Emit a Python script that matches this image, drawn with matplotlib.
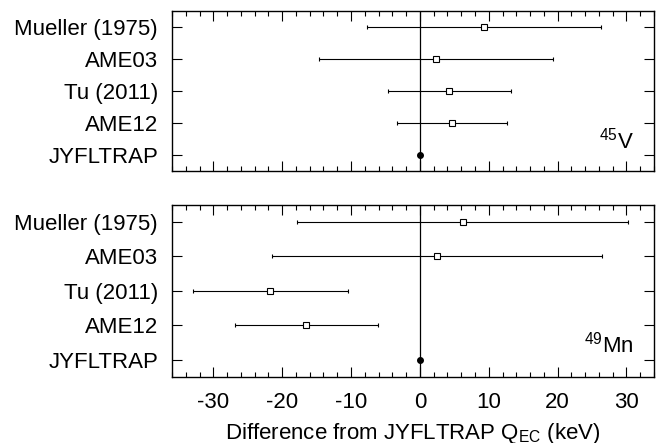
import numpy as np
import matplotlib.pyplot as plt

plt.rcParams['font.family'] = 'Liberation Sans'
plt.rcParams['mathtext.fontset'] = 'custom'
plt.rcParams['mathtext.rm'] = 'Liberation Sans'
plt.rcParams['mathtext.it'] = 'Liberation Sans'
plt.rcParams['axes.unicode_minus'] = False

labels = ['JYFLTRAP', 'AME12', 'Tu (2011)', 'AME03', 'Mueller (1975)']

# differences from JYFLTRAP (keV), ordered bottom to top
v45_diff = [0.0, 4.7, 4.3, 2.3, 9.3]
v45_err = [0.0, 8.0, 9.0, 17.0, 17.0]
mn49_diff = [0.0, -16.5, -21.7, 2.5, 6.2]
mn49_err = [0.0, 10.4, 11.3, 24.0, 24.0]

nuclides = [r'$^{45}$V', r'$^{49}$Mn']

fig = plt.figure(figsize=(6.58, 4.43), dpi=100)
ax1 = fig.add_axes([0.2614, 0.6147, 0.7325, 0.3612])
ax2 = fig.add_axes([0.2614, 0.1497, 0.7325, 0.3876])

for ax, d, e, name in zip([ax1, ax2], [v45_diff, mn49_diff],
                          [v45_err, mn49_err], nuclides):
    y = np.arange(len(labels))
    ax.axvline(0, color='black', lw=0.9, zorder=1)
    ax.errorbar(d[1:], y[1:], xerr=e[1:], fmt='s', ms=4.5, mfc='white',
                mec='black', mew=0.8, ecolor='black', elinewidth=0.8,
                capsize=1.5, capthick=0.8, zorder=3)
    ax.plot(d[0], y[0], 'o', color='black', ms=4, zorder=4)
    ax.set_xlim(-36, 34)
    ax.set_ylim(-0.5, 4.5)
    ax.set_yticks(y)
    ax.set_yticklabels(labels, fontsize=16)
    ax.set_xticks(np.arange(-30, 31, 10))
    ax.set_xticks(np.arange(-36, 35, 2), minor=True)
    ax.tick_params(axis='x', which='major', direction='in', top=True,
                   length=7, width=0.8, labelsize=16, pad=11)
    ax.tick_params(axis='x', which='minor', direction='in', top=True,
                   length=3.5, width=0.8)
    ax.tick_params(axis='y', which='major', direction='in', right=True,
                   length=7.5, width=0.8, pad=10)
    for s in ax.spines.values():
        s.set_linewidth(1.0)
    ax.text(0.958, 0.14, name, transform=ax.transAxes, ha='right',
            va='baseline', fontsize=16)

ax1.tick_params(axis='x', labelbottom=False)
ax2.set_xlabel(r'Difference from JYFLTRAP Q$_{\mathrm{EC}}$ (keV)',
               fontsize=16, labelpad=6)

fig.savefig('out.png', dpi=100)
